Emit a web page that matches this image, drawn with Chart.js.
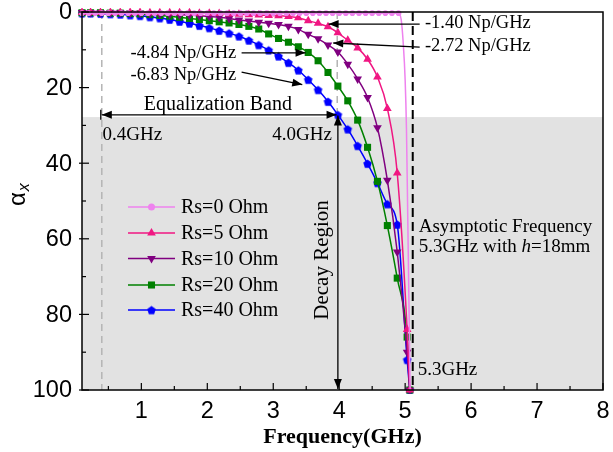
<!DOCTYPE html>
<html><head><meta charset="utf-8">
<script src="https://cdn.jsdelivr.net/npm/chart.js@4.4.1/dist/chart.umd.min.js"></script>
<style>html,body{margin:0;padding:0;background:#fff;overflow:hidden}#wrap{width:613px;height:452px}</style>
</head><body><div id="wrap"><canvas id="c" width="613" height="452"></canvas></div>
<script>
// ---------- data ----------
const seriesNames = ['Rs=0 Ohm','Rs=5 Ohm','Rs=10 Ohm','Rs=20 Ohm','Rs=40 Ohm'];
const freqRs0 = [0.1,0.2,0.3,0.4,0.5,0.6,0.7,0.8,0.9,1.0,1.1,1.2,1.3,1.4,1.5,1.6,1.7,1.8,1.9,2.0,
  2.1,2.2,2.3,2.4,2.5,2.6,2.7,2.8,2.9,3.0,3.1,3.2,3.3,3.4,3.5,3.6,3.7,3.8,3.9,4.0,
  4.1,4.2,4.3,4.4,4.5,4.6,4.7,4.8,4.9,4.94,4.97,5.0,5.02,5.04,5.06,5.075];
const alphaRs0 = [0.3,0.3,0.3,0.3,0.3,0.3,0.3,0.3,0.3,0.3,0.3,0.3,0.3,0.3,0.3,0.3,0.3,0.3,0.3,0.3,
  0.3,0.3,0.3,0.3,0.3,0.3,0.3,0.3,0.3,0.3,0.3,0.3,0.3,0.3,0.3,0.3,0.3,0.3,0.3,0.3,
  0.3,0.3,0.3,0.3,0.3,0.3,0.3,0.3,0.3,2,8,18,31,55,80,100];
const freqMain = [0.1,0.23,0.38,0.53,0.68,0.83,0.98,1.13,1.28,1.43,1.58,1.73,1.88,2.03,2.18,2.33,2.48,2.63,
  2.78,2.93,3.08,3.23,3.38,3.53,3.68,3.83,3.98,4.13,4.28,4.43,4.58,4.73,4.88,5.03,5.07];
const alphaRs5 = [0.1,0.1,0.1,0.1,0.1,0.1,0.1,0.2,0.2,0.2,0.2,0.2,0.3,0.3,0.4,0.5,0.6,0.7,
  0.8,0.9,1.0,1.2,1.5,2.3,3.0,3.9,5.5,7.5,9.5,12.5,17.2,25.5,42.6,84,100];
const alphaRs10 = [0.1,0.1,0.2,0.2,0.2,0.3,0.3,0.4,0.5,0.6,0.7,0.8,1.0,1.2,1.4,1.7,2.1,2.4,
  2.7,3.0,3.3,3.8,4.6,5.9,7.1,8.7,10.6,13.8,17.7,22.6,30.6,44.5,63.5,90,100];
const alphaRs20 = [0.2,0.2,0.2,0.3,0.3,0.4,0.5,0.7,0.9,1.1,1.4,1.7,2.0,2.3,2.6,2.9,3.3,3.8,
  4.5,5.8,7.0,8.0,9.2,10.7,12.9,16.0,19.6,23.5,28.6,35.8,44.8,56.5,70.4,86,100];
const alphaRs40 = [0.3,0.3,0.4,0.5,0.6,0.8,1.0,1.3,1.6,2.0,2.5,3.0,3.6,4.2,4.9,5.6,6.4,7.5,
  8.7,10.1,11.7,13.4,15.4,17.9,20.6,23.7,27.2,31.0,35.4,40.1,45.2,50.8,56.2,92,100];
const xTickLabels = [1,2,3,4,5,6,7,8];
const xMinorTicks = [0.5,1.5,2.5,3.5,4.5,5.5,6.5,7.5];
const yTickLabels = [0,20,40,60,80,100];
const yMinorTicks = [10,30,50,70,90];

// ---------- styles ----------
const SERIF = "'Liberation Serif','Times New Roman',serif";
const SANS = "'Liberation Sans',Arial,sans-serif";
const colors = ['#ee82ee','#f01682','#800080','#008000','#0000ff'];

function pentagon(color, r){
  const c = document.createElement('canvas');
  const s = Math.ceil(r*2+2); c.width = s; c.height = s;
  const g = c.getContext('2d'); g.fillStyle = color; g.beginPath();
  for(let i=0;i<5;i++){const a=-Math.PI/2+i*2*Math.PI/5; const px=s/2+r*Math.cos(a), py=s/2+r*Math.sin(a)+0.5; i?g.lineTo(px,py):g.moveTo(px,py);}
  g.closePath(); g.fill(); return c;
}
const pentImg = pentagon('#0000ff',4.5);

const pts = (fs, vs) => fs.map((f,i)=>({x:f, y:vs[i]}));
const markerDefs = [
  {style:'circle', radius:2.8, rotation:0},
  {style:'triangle', radius:5, rotation:0},
  {style:'triangle', radius:5, rotation:180},
  {style:'rect', radius:5, rotation:0},
  {style:pentImg, radius:5, rotation:0}
];
const seriesData = [pts(freqRs0,alphaRs0), pts(freqMain,alphaRs5), pts(freqMain,alphaRs10), pts(freqMain,alphaRs20), pts(freqMain,alphaRs40)];

const datasets = seriesData.map((d,i)=>({
  label: seriesNames[i], data: d, showLine: true,
  borderColor: colors[i], backgroundColor: colors[i], borderWidth: 1.5,
  pointStyle: markerDefs[i].style, pointRotation: markerDefs[i].rotation,
  pointRadius: i===0 ? (c)=> (c.raw && c.raw.y < 1 ? markerDefs[0].radius : 0) : markerDefs[i].radius,
  pointBorderWidth: 0, cubicInterpolationMode: 'monotone', clip: 4
}));

// ---------- helpers ----------
function line(ctx,x1,y1,x2,y2){ctx.beginPath();ctx.moveTo(x1,y1);ctx.lineTo(x2,y2);ctx.stroke();}
function head(ctx,x1,y1,x2,y2,len,w){
  const a=Math.atan2(y2-y1,x2-x1);
  ctx.beginPath();ctx.moveTo(x2,y2);
  ctx.lineTo(x2-len*Math.cos(a)+w*Math.sin(a), y2-len*Math.sin(a)-w*Math.cos(a));
  ctx.lineTo(x2-len*Math.cos(a)-w*Math.sin(a), y2-len*Math.sin(a)+w*Math.cos(a));
  ctx.closePath();ctx.fill();
}
function arrow(ctx,x1,y1,x2,y2,both){
  line(ctx,x1,y1,x2,y2); head(ctx,x1,y1,x2,y2,10,4);
  if(both) head(ctx,x2,y2,x1,y1,10,4);
}

const grayTop = 27.8;

const deco = {
  id:'deco',
  beforeDatasetsDraw(chart){
    const {ctx, chartArea:a, scales:{x,y}} = chart;
    ctx.save();
    const gy = y.getPixelForValue(grayTop);
    ctx.fillStyle = '#e2e2e2';
    ctx.fillRect(a.left, gy, a.right-a.left, a.bottom-gy);
    ctx.strokeStyle = '#b4b4b4'; ctx.lineWidth = 1.5; ctx.setLineDash([7,5]);
    let px = x.getPixelForValue(0.4); line(ctx,px,a.top,px,a.bottom);
    px = x.getPixelForValue(3.97); line(ctx,px,a.top,px,gy);
    ctx.strokeStyle = '#000'; ctx.lineWidth = 2; ctx.setLineDash([9,5]);
    px = x.getPixelForValue(5.115); line(ctx,px,a.top,px,a.bottom);
    ctx.restore();
  },
  afterDatasetsDraw(chart){
    const {ctx, chartArea:a, scales:{x,y}} = chart;
    const X = v=>x.getPixelForValue(v), Y = v=>y.getPixelForValue(v);
    ctx.save();
    // frame
    ctx.strokeStyle='#000'; ctx.lineWidth=1.5; ctx.setLineDash([]);
    ctx.strokeRect(a.left, a.top, a.right-a.left, a.bottom-a.top);
    // ticks
    ctx.lineWidth=1.2;
    xTickLabels.forEach(v=>{const p=X(v); line(ctx,p,a.bottom,p,a.bottom-7);});
    xMinorTicks.forEach(v=>{const p=X(v); line(ctx,p,a.bottom,p,a.bottom-4);});
    yTickLabels.forEach(v=>{const p=Y(v); line(ctx,a.left-3,p,a.left+7,p);});
    yMinorTicks.forEach(v=>{const p=Y(v); line(ctx,a.left,p,a.left+4,p);});
    // tick labels
    ctx.fillStyle='#000'; ctx.font='23.5px '+SANS;
    ctx.textAlign='center'; ctx.textBaseline='middle';
    xTickLabels.forEach(v=>ctx.fillText(String(v), X(v), 412));
    ctx.textAlign='right';
    yTickLabels.forEach(v=>ctx.fillText(String(v), 72, Y(v)+1));
    // axis titles
    ctx.font='bold 22px '+SERIF; ctx.textAlign='center';
    ctx.fillText('Frequency(GHz)', (a.left+a.right)/2, 437);
    ctx.save(); ctx.translate(25,206); ctx.rotate(-Math.PI/2);
    ctx.textAlign='left'; ctx.textBaseline='alphabetic';
    ctx.font='24px '+SANS; ctx.fillText('α',0,0);
    const aw = ctx.measureText('α').width;
    ctx.font='italic 16px '+SANS; ctx.fillText('x',aw+1,4);
    ctx.restore();

    // annotations
    ctx.fillStyle='#000'; ctx.strokeStyle='#000'; ctx.lineWidth=1.3;
    const ey = Y(27.2);
    arrow(ctx, X(0.4), ey, X(3.96), ey, true);
    line(ctx, X(0.4)-1, ey-5, X(0.4)-1, ey+5);
    arrow(ctx, X(3.98), Y(27.4), X(3.98), Y(100)-1, true);
    arrow(ctx, X(5.22), Y(3.2), X(3.84), Y(3.2));
    arrow(ctx, X(5.22), Y(9.3), X(3.91), Y(8.2));
    arrow(ctx, X(2.52), Y(10.8), X(3.49), Y(10.8));
    arrow(ctx, X(2.52), Y(15.9), X(3.44), Y(19.2));

    ctx.font='18.5px '+SERIF; ctx.textBaseline='middle';
    ctx.textAlign='left';
    ctx.fillText('-1.40 Np/GHz', X(5.30), Y(2.9));
    ctx.fillText('-2.72 Np/GHz', X(5.30), Y(9.0));
    ctx.textAlign='right';
    ctx.fillText('-4.84 Np/GHz', X(2.44), Y(10.8));
    ctx.fillText('-6.83 Np/GHz', X(2.44), Y(16.7));

    ctx.textBaseline='alphabetic';
    ctx.font='20px '+SERIF; ctx.textAlign='center';
    ctx.fillText('Equalization Band', X(2.16), Y(25.9));
    ctx.font='19px '+SERIF; ctx.textAlign='left';
    ctx.fillText('0.4GHz', X(0.41), Y(33.9));
    ctx.textAlign='right';
    ctx.fillText('4.0GHz', X(3.89), Y(33.9));
    ctx.textAlign='left';
    ctx.fillText('Asymptotic Frequency', X(5.205), Y(58.1));
    let tx = X(5.205), ty = Y(63.4);
    ctx.fillText('5.3GHz with ', tx, ty); tx += ctx.measureText('5.3GHz with ').width;
    ctx.font='italic 19px '+SERIF; ctx.fillText('h', tx, ty); tx += ctx.measureText('h').width;
    ctx.font='19px '+SERIF; ctx.fillText('=18mm', tx, ty);
    ctx.fillText('5.3GHz', X(5.19), Y(96));
    ctx.save(); ctx.translate(X(3.73)+7, Y(65.6)); ctx.rotate(-Math.PI/2);
    ctx.font='21px '+SERIF; ctx.textAlign='center'; ctx.textBaseline='alphabetic';
    ctx.fillText('Decay Region',0,0); ctx.restore();

    // legend
    const rows=[207,233,258.5,285,310];
    ctx.font='20px '+SERIF; ctx.textAlign='left'; ctx.textBaseline='middle';
    datasets.forEach((ds,i)=>{
      const ry=rows[i];
      ctx.strokeStyle=colors[i]; ctx.lineWidth=1.5; line(ctx,128,ry,175,ry);
      ctx.fillStyle=colors[i];
      Chart.helpers.drawPoint(ctx,{pointStyle:markerDefs[i].style, rotation:markerDefs[i].rotation, radius: i===0?3.5:markerDefs[i].radius, borderWidth:0}, 151.5, ry);
      ctx.fillStyle='#000'; ctx.fillText(seriesNames[i],181,ry+1);
    });
    ctx.restore();
  }
};

new Chart(document.getElementById('c'), {
  type:'scatter',
  data:{datasets},
  options:{
    responsive:false, devicePixelRatio:1, animation:false,
    layout:{padding:{left:82,right:10,top:12,bottom:62}},
    scales:{
      x:{type:'linear',min:0.1,max:8,display:false},
      y:{type:'linear',min:0,max:100,reverse:true,display:false}
    },
    plugins:{legend:{display:false},tooltip:{enabled:false}}
  },
  plugins:[deco]
});
</script></body></html>
